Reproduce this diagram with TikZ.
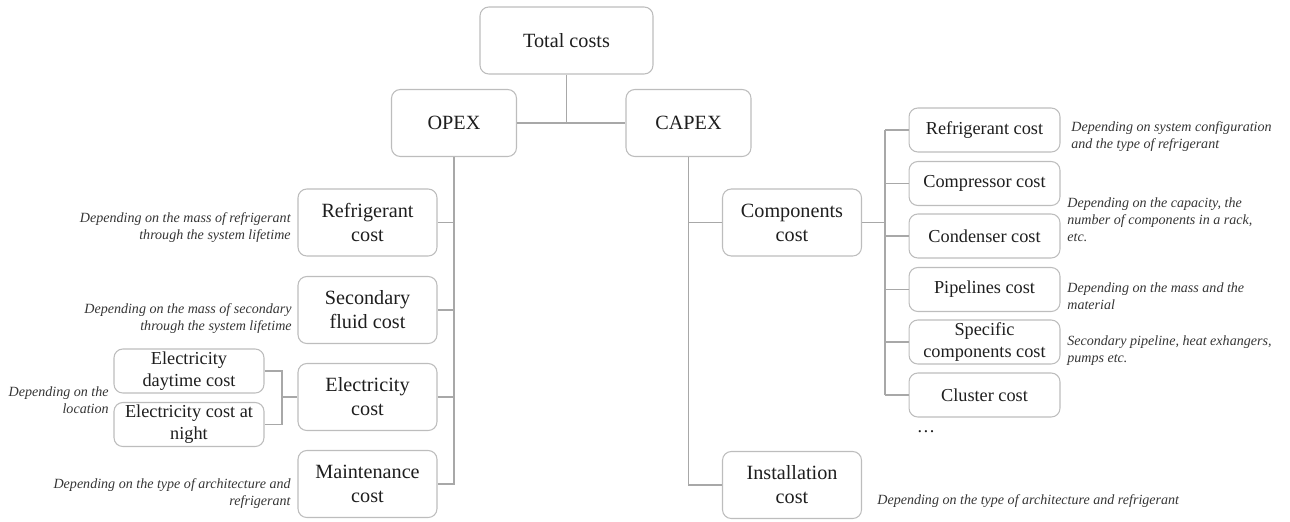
\documentclass[tikz,border=0pt]{standalone}
\usepackage{fontspec}
\setmainfont{Liberation Serif}
\definecolor{boxline}{HTML}{BDBDBD}
\definecolor{linkline}{HTML}{A8A8A8}
\definecolor{boxtext}{HTML}{1E1E1E}
\definecolor{notetext}{HTML}{353535}
\tikzset{
  costbox/.style={draw=boxline, line width=0.6pt, rounded corners=5pt, fill=white,
    align=center, text=boxtext, inner sep=1pt, font=\fontsize{11.5}{13.6}\selectfont},
  topbox/.style={costbox, minimum width=3.46cm, minimum height=1.34cm},
  sidebox/.style={costbox, minimum width=2.5cm, minimum height=1.34cm},
  midbox/.style={costbox, minimum width=2.78cm, minimum height=1.34cm},
  subbox/.style={costbox, minimum width=3.02cm, minimum height=0.88cm,
    font=\fontsize{10.4}{12.4}\selectfont},
  note/.style={inner sep=0pt, text=notetext, font=\fontsize{8}{9.6}\selectfont\itshape},
  link/.style={draw=linkline, line width=0.6pt}
}
\begin{document}
\begin{tikzpicture}[x=0.02cm,y=-0.02cm]
	\useasboundingbox (0,0) rectangle (1290,521);
	
	\node[topbox] (total) at (566.5,40.5){Total costs};
	\node[sidebox] (opex) at (454,123){OPEX};
	\node[sidebox] (capex) at (688.5,123){CAPEX};
	
	\node[midbox] (orefr) at (367.5,222.5){Refrigerant\\cost};
	\node[midbox] (osec) at (367.5,310){Secondary\\fluid cost};
	\node[midbox] (oelec) at (367.5,397){Electricity\\cost};
	\node[midbox] (omaint) at (367.5,484){Maintenance\\cost};
	
	\node[subbox, minimum width=3cm] (eday) at (189,371){Electricity\\daytime cost};
	\node[subbox, minimum width=3cm] (enight) at (189,424.5){Electricity cost at\\night};
	\coordinate (ebr) at (282,397);
	
	\node[midbox] (ccomp) at (792,222.5){Components\\cost};
	\node[midbox] (cinst) at (792,485){Installation\\cost};
	\coordinate (cbr) at (885,222.5);
	
	\node[subbox] (crefr) at (984.5,130){Refrigerant cost};
	\node[subbox] (ccompr) at (984.5,183.5){Compressor cost};
	\node[subbox] (ccond) at (984.5,236){Condenser cost};
	\node[subbox] (cpipe) at (984.5,289.5){Pipelines cost};
	\node[subbox] (cspec) at (984.5,342){Specific\\components cost};
	\node[subbox] (cclus) at (984.5,395){Cluster cost};
	\node[inner sep=0pt, text=boxtext, font=\fontsize{10.4}{12.4}\selectfont] (cmore) at (926,432){\dots};
	
	\draw[link] (total.south) -- (total.south |- opex.east);
	\draw[link] (opex.east) -- (capex.west);
	
	\draw[link] (opex.south) |- (omaint.east);
	\foreach \n in {orefr,osec,oelec}
		\draw[link] (\n.east) -- (\n.east -| opex.south);
	\draw[link] (eday.east) -| (ebr);
	\draw[link] (enight.east) -| (ebr);
	\draw[link] (ebr) -- (oelec.west);
	
	\draw[link] (capex.south) |- (cinst.west);
	\draw[link] (ccomp.west) -- (ccomp.west -| capex.south);
	\draw[link] (ccomp.east) -- (cbr);
	\draw[link] (cbr |- crefr.west) -- (cbr |- cclus.west);
	\foreach \n in {crefr,ccompr,ccond,cpipe,cspec,cclus}
		\draw[link] (\n.west) -- (\n.west -| cbr);
	
	\node[note, anchor=east, align=right] (nrefr) at (291,227.5){Depending on the mass of refrigerant\\through the system lifetime};
	\node[note, anchor=east, align=right] (nsec) at (292,318.5){Depending on the mass of secondary\\through the system lifetime};
	\node[note, anchor=east, align=right] (nloc) at (109,400.5){Depending on the\\location};
	\node[note, anchor=east, align=right] (nmaint) at (291,493.5){Depending on the type of architecture and\\refrigerant};
	
	\node[note, anchor=west, align=left] (nconf) at (1071,136.5){Depending on system configuration\\and the type of refrigerant};
	\node[note, anchor=west, align=left] (ncap) at (1067,220){Depending on the capacity, the\\number of components in a rack,\\etc.};
	\node[note, anchor=west, align=left] (nmass) at (1067,296.5){Depending on the mass and the\\material};
	\node[note, anchor=west, align=left] (nspec) at (1067,351){Secondary pipeline, heat exhangers,\\pumps etc.};
	\node[note, anchor=west, align=left] (ninst) at (877,501){Depending on the type of architecture and refrigerant};
\end{tikzpicture}
\end{document}
